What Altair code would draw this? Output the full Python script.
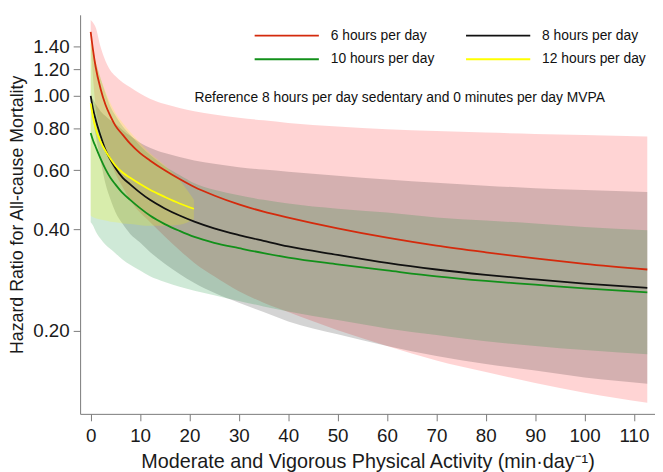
import altair as alt
import pandas as pd

SERIES = ["6 hours per day", "8 hours per day", "10 hours per day", "12 hours per day"]
LINE_COLORS = ["#d42a0c", "#111111", "#12901a", "#ffff00"]
BAND_COLORS = ["rgba(255,0,0,0.17)", "rgba(0,0,0,0.17)", "rgba(0,140,40,0.19)", "rgba(255,255,0,0.2)"]

X_TICKS = [0, 10, 20, 30, 40, 50, 60, 70, 80, 90, 100, 110]
Y_TICKS = [0.2, 0.4, 0.6, 0.8, 1.0, 1.2, 1.4]

X_TITLE = "Moderate and Vigorous Physical Activity (min\u00b7day\u207b\u00b9)"
Y_TITLE = "Hazard Ratio for All-cause Mortality"
NOTE = "Reference 8 hours per day sedentary and 0 minutes per day MVPA"

# MVPA (min/day) sample points
x_long = [0, 0.5, 1, 2, 3, 4, 5, 6.5, 8, 10, 12, 15, 18, 21, 25, 30, 35, 40, 50, 60, 70, 80, 90, 100, 112.7]
x_12 = [0, 0.5, 1, 2, 3, 4, 5, 6.5, 8, 10, 12, 15, 18, 20.9]

# 6 hours per day
hr_6 = [1.55, 1.36, 1.22, 1.05, 0.94, 0.87, 0.815, 0.765, 0.72, 0.675, 0.642, 0.60, 0.565, 0.535, 0.505, 0.475, 0.452, 0.434, 0.403, 0.378, 0.358, 0.342, 0.328, 0.316, 0.304]
hi_6 = [1.68, 1.65, 1.60, 1.40, 1.27, 1.19, 1.145, 1.095, 1.06, 1.015, 0.98, 0.945, 0.92, 0.90, 0.88, 0.86, 0.845, 0.83, 0.81, 0.795, 0.785, 0.777, 0.77, 0.764, 0.757]
lo_6 = [1.43, 1.12, 0.93, 0.788, 0.696, 0.636, 0.587, 0.534, 0.489, 0.449, 0.421, 0.381, 0.347, 0.318, 0.29, 0.262, 0.242, 0.227, 0.2005, 0.18, 0.163, 0.1505, 0.1397, 0.1307, 0.122]

# 8 hours per day (reference)
hr_8 = [1.00, 0.91, 0.85, 0.76, 0.69, 0.645, 0.61, 0.57, 0.545, 0.515, 0.49, 0.462, 0.44, 0.422, 0.403, 0.385, 0.37, 0.356, 0.336, 0.318, 0.304, 0.293, 0.284, 0.276, 0.268]
hi_8 = [1.00, 0.975, 0.945, 0.90, 0.87, 0.845, 0.825, 0.79, 0.76, 0.725, 0.70, 0.675, 0.657, 0.642, 0.628, 0.613, 0.603, 0.594, 0.578, 0.563, 0.551, 0.54, 0.531, 0.524, 0.517]
lo_8 = [1.00, 0.849, 0.765, 0.642, 0.547, 0.492, 0.451, 0.415, 0.388, 0.366, 0.343, 0.316, 0.295, 0.277, 0.259, 0.242, 0.227, 0.213, 0.195, 0.18, 0.168, 0.159, 0.152, 0.145, 0.139]

# 10 hours per day
hr_10 = [0.775, 0.735, 0.705, 0.65, 0.605, 0.57, 0.545, 0.513, 0.49, 0.463, 0.44, 0.415, 0.396, 0.38, 0.365, 0.352, 0.34, 0.33, 0.315, 0.302, 0.29, 0.281, 0.274, 0.267, 0.26]
hi_10 = [1.43, 1.318, 1.258, 1.127, 1.017, 0.928, 0.874, 0.81, 0.765, 0.71, 0.668, 0.617, 0.581, 0.549, 0.525, 0.506, 0.49, 0.478, 0.461, 0.449, 0.434, 0.425, 0.417, 0.407, 0.398]
lo_10 = [0.42, 0.41, 0.395, 0.375, 0.36, 0.35, 0.34, 0.325, 0.314, 0.302, 0.29, 0.279, 0.27, 0.263, 0.255, 0.245, 0.236, 0.228, 0.215, 0.203, 0.194, 0.186, 0.18, 0.175, 0.17]

# 12 hours per day
hr_12 = [0.95, 0.86, 0.80, 0.73, 0.685, 0.65, 0.62, 0.59, 0.57, 0.546, 0.525, 0.50, 0.478, 0.461]
hi_12 = [1.48, 1.36, 1.27, 1.13, 1.03, 0.95, 0.89, 0.83, 0.78, 0.725, 0.675, 0.62, 0.56, 0.49]
lo_12 = [0.44, 0.435, 0.432, 0.428, 0.425, 0.422, 0.42, 0.417, 0.415, 0.412, 0.41, 0.41, 0.413, 0.43]

blocks = [
    (SERIES[0], x_long, hr_6, lo_6, hi_6),
    (SERIES[1], x_long, hr_8, lo_8, hi_8),
    (SERIES[2], x_long, hr_10, lo_10, hi_10),
    (SERIES[3], x_12, hr_12, lo_12, hi_12),
]
rows = []
for name, xs, hr, lo, hi in blocks:
    for a, b, c, d in zip(xs, hr, lo, hi):
        rows.append({"series": name, "x": a, "hr": b, "lo": c, "hi": d})
df = pd.DataFrame(rows)

FONT = "Liberation Sans"

x_enc = alt.X(
    "x:Q",
    scale=alt.Scale(domain=[-2.14, 114.26], nice=False, zero=False),
    axis=alt.Axis(values=X_TICKS, title=X_TITLE, labelPadding=6, titlePadding=6,
                  titleFontSize=20, labelFontSize=19),
)
y_scale = alt.Scale(type="log", domain=[0.113, 1.742], nice=False)
y_axis = alt.Axis(values=Y_TICKS, format=".2f", title=Y_TITLE, labelPadding=4,
                  titlePadding=6, titleFontSize=18, labelFontSize=19)

layers = []
for i, name in enumerate(SERIES):
    band = (
        alt.Chart(df)
        .transform_filter(alt.datum.series == name)
        .mark_area(interpolate="monotone", clip=True, color=BAND_COLORS[i])
        .encode(x=x_enc, y=alt.Y("hi:Q", scale=y_scale, axis=y_axis), y2="lo:Q")
    )
    layers.append(band)

lines = (
    alt.Chart(df)
    .mark_line(interpolate="monotone", strokeWidth=1.8, clip=True)
    .encode(
        x=x_enc,
        y=alt.Y("hr:Q", scale=y_scale, axis=y_axis),
        color=alt.Color(
            "series:N",
            scale=alt.Scale(domain=SERIES, range=LINE_COLORS),
            legend=alt.Legend(
                title=None, orient="none", legendX=175.7, legendY=9, columns=2,
                direction="horizontal",
                symbolType="stroke", symbolSize=4225, symbolStrokeWidth=1.8,
                clipHeight=24, rowPadding=0, columnPadding=30, labelOffset=11,
                labelFontSize=14, labelFont=FONT, labelColor="#111111",
                padding=0, symbolOffset=0, labelLimit=300,
            ),
        ),
    )
)
layers.append(lines)

note = (
    alt.Chart(pd.DataFrame({"t": [NOTE]}))
    .mark_text(font=FONT, fontSize=14, align="center", baseline="middle", color="#111111")
    .encode(x=alt.value(323.5), y=alt.value(84), text="t:N")
)
layers.append(note)

chart = (
    alt.layer(*layers)
    .properties(
        width=582, height=404,
        autosize=alt.AutoSizeParams(type="none"),
        padding={"left": 73, "top": 4, "right": 0, "bottom": 60},
        background="white",
    )
    .configure_view(strokeWidth=0)
    .configure_axis(
        grid=False, domainColor="#7a7a7a", tickColor="#7a7a7a", tickSize=7,
        labelColor="#1a1a1a", titleColor="#1a1a1a", labelFont=FONT, titleFont=FONT,
        titleFontWeight="normal", labelOverlap=False, labelFlush=False,
    )
)

chart.save("out.html", embed_options={"renderer": "svg", "actions": False})
